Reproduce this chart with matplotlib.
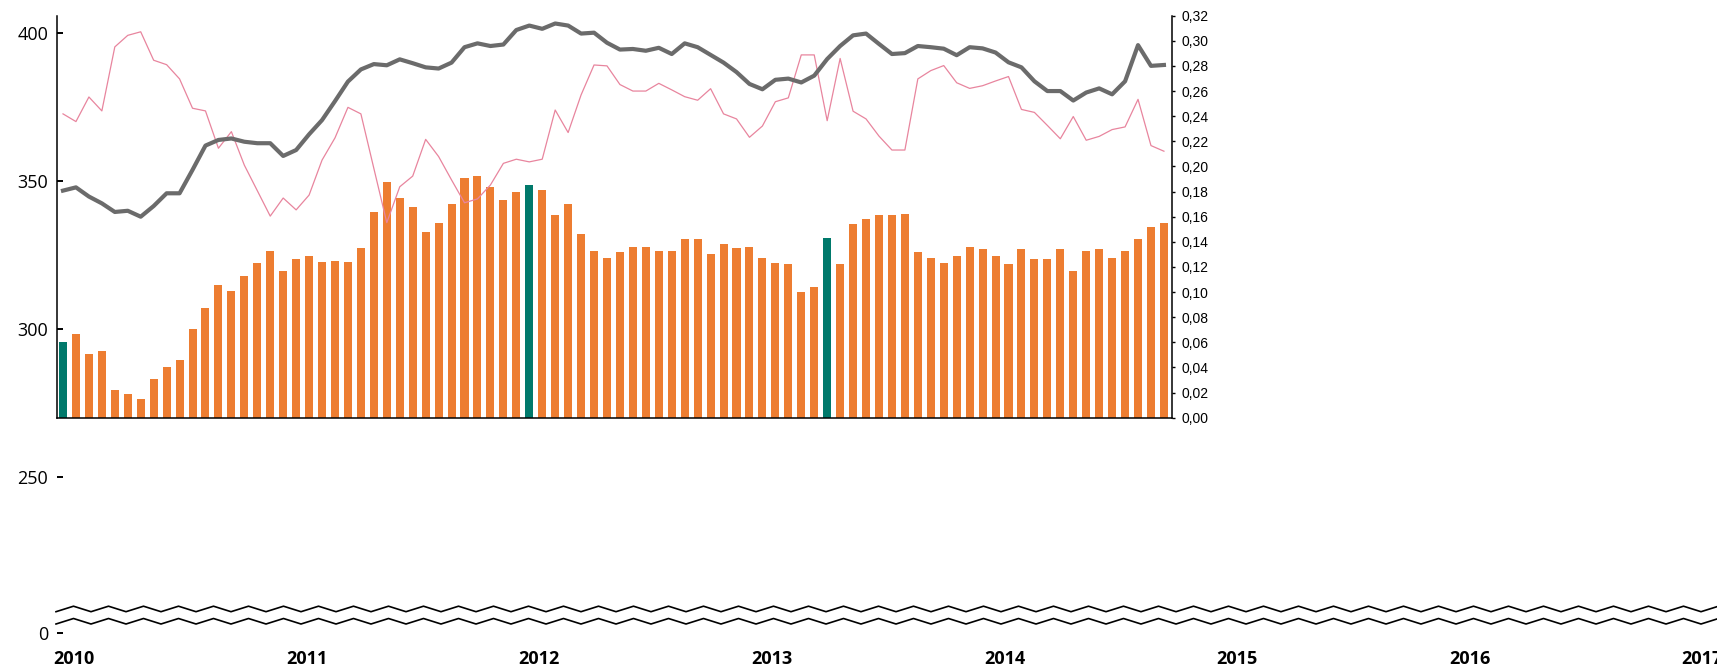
import matplotlib
matplotlib.use('Agg')
import matplotlib.pyplot as plt
from matplotlib.lines import Line2D
from matplotlib.ticker import FuncFormatter
import numpy as np

# monthly share (right axis), bars
share = [0.060, 0.067, 0.051, 0.053, 0.022, 0.019, 0.015, 0.031, 0.040, 0.046,
         0.071, 0.087, 0.106, 0.101, 0.113, 0.123, 0.133, 0.117, 0.126, 0.129,
         0.124, 0.125, 0.124, 0.135, 0.164, 0.188, 0.175, 0.168, 0.148, 0.155,
         0.170, 0.191, 0.192, 0.184, 0.173, 0.180, 0.185, 0.181, 0.161, 0.170,
         0.146, 0.133, 0.127, 0.132, 0.136, 0.136, 0.133, 0.133, 0.142, 0.142,
         0.130, 0.138, 0.135, 0.136, 0.127, 0.123, 0.122, 0.100, 0.104, 0.143,
         0.122, 0.154, 0.158, 0.161, 0.161, 0.162, 0.132, 0.127, 0.123, 0.129,
         0.136, 0.134, 0.129, 0.122, 0.134, 0.126, 0.126, 0.134, 0.117, 0.133,
         0.134, 0.127, 0.133, 0.142, 0.152, 0.155]
highlight = [0, 36, 59]

# levels (left axis)
level_grey = [346.7, 347.8, 344.7, 342.4, 339.5, 339.9, 337.9, 341.5, 345.8, 345.8,
              353.7, 361.9, 363.8, 364.3, 363.2, 362.7, 362.7, 358.4, 360.4, 365.7,
              370.5, 376.9, 383.5, 387.6, 389.4, 389.0, 391.0, 389.7, 388.3, 387.9,
              389.9, 395.1, 396.4, 395.5, 396.0, 400.9, 402.4, 401.3, 403.1, 402.4,
              399.7, 400.0, 396.6, 394.3, 394.5, 393.9, 394.9, 392.8, 396.4, 395.1,
              392.5, 389.9, 386.7, 382.7, 380.9, 384.1, 384.5, 383.2, 385.5, 391.1,
              395.5, 399.1, 399.7, 396.2, 392.8, 393.1, 395.5, 395.1, 394.6, 392.4,
              395.1, 394.7, 393.3, 390.0, 388.3, 383.6, 380.3, 380.3, 377.1, 379.8,
              381.2, 379.2, 383.6, 395.8, 388.8, 389.1]
level_pink = [372.6, 370.0, 378.3, 373.6, 395.2, 399.1, 400.3, 390.7, 389.2, 384.4,
              374.5, 373.6, 361.0, 366.6, 355.3, 346.7, 338.1, 344.2, 340.2, 345.2,
              357.0, 364.5, 374.8, 372.6, 354.2, 335.9, 348.0, 351.6, 364.0, 358.2,
              350.3, 342.6, 343.9, 348.6, 355.9, 357.3, 356.4, 357.3, 373.9, 366.3,
              379.0, 389.1, 388.8, 382.5, 380.3, 380.3, 382.9, 380.7, 378.4, 377.2,
              381.1, 372.6, 370.9, 364.7, 368.5, 376.7, 378.0, 392.5, 392.5, 370.3,
              391.3, 373.5, 370.9, 365.1, 360.4, 360.4, 384.4, 387.2, 388.9, 383.1,
              381.2, 382.1, 383.7, 385.2, 374.1, 373.1, 368.7, 364.2, 371.7, 363.7,
              365.0, 367.3, 368.2, 377.5, 361.9, 360.0]

years = [2010, 2011, 2012, 2013, 2014, 2015, 2016, 2017]
left_ticks = [300, 350, 400]
ORANGE = '#ED7D31'
TEAL = '#00796B'
GREY = '#6B6B6B'
PINK = '#E8859E'

W, H = 1717, 668
fig = plt.figure(figsize=(W / 100, H / 100), dpi=100)

# main plot area (pixel box 57..1172 x 16..418)
ax = fig.add_axes([57.3 / W, 1 - 417.7 / H, (1171.7 - 57.3) / W, (417.7 - 15.7) / H])
ax2 = ax.twinx()

x = np.arange(len(share))
cols = [TEAL if i in highlight else ORANGE for i in x]
ax2.bar(x, share, width=0.62, color=cols)
ax2.set_ylim(0, 0.32)
ax2.set_yticks(np.linspace(0, 0.32, 17))
ax2.yaxis.set_major_formatter(FuncFormatter(lambda v, p: f'{v:.2f}'.replace('.', ',')))
ax2.tick_params(axis='y', direction='out', length=2, width=1, pad=5.4,
                labelsize=10, labelfontfamily='Liberation Sans')
for s in ('top', 'left', 'bottom'):
    ax2.spines[s].set_visible(False)
ax2.spines['right'].set_linewidth(1.1)

ax.plot(x, level_pink, color=PINK, lw=0.9)
ax.plot(x, level_grey, color=GREY, lw=3.0)
ax.set_zorder(ax2.get_zorder() + 1)
ax.patch.set_visible(False)
ax.set_xlim(-0.44, 85.6)
ax.set_ylim(270.07, 405.73)
ax.set_yticks(left_ticks)
ax.set_xticks([])
ax.tick_params(axis='y', direction='in', length=4.5, width=1.4, pad=6.5,
               labelsize=13, labelfontfamily='Open Sans')
for s in ('top', 'right'):
    ax.spines[s].set_visible(False)
ax.spines['left'].set_linewidth(1.1)
ax.spines['bottom'].set_linewidth(1.1)

# lower part: broken left axis and year labels
lax = fig.add_axes([57.3 / W, (H - 640) / H, (W - 57.3) / W, (640 - 417.7) / H])
lax.patch.set_visible(False)
for s in lax.spines.values():
    s.set_visible(False)
lax.set_xlim(2009.9273, 2017.0628)
lax.set_ylim(195.05, 270.07)
lax.set_yticks([197.52, 250], labels=['0', '250'])
lax.tick_params(axis='y', direction='in', length=4.5, width=1.4, pad=6.5,
                labelsize=13, labelfontfamily='Open Sans')
lax.set_xticks(years, labels=[str(y) for y in years])
lax.tick_params(axis='x', length=0, pad=7, labelsize=13)
for lbl in lax.get_xticklabels():
    lbl.set_fontfamily('Open Sans')
    lbl.set_fontweight('bold')

# axis break marks
zx = np.arange(56, W + 20, 17.5)
zy = np.where(np.arange(len(zx)) % 2 == 0, 0.0, 5.5)
for base in (611.7, 624.0):
    fig.add_artist(Line2D(zx / W, (H - base + zy) / H, transform=fig.transFigure,
                          color='black', lw=1.2))

fig.savefig('out.png', dpi=100)
